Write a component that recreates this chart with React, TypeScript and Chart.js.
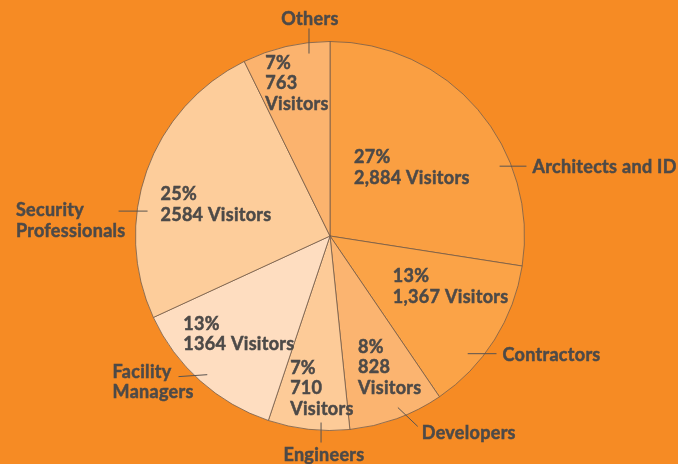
import React, { useEffect, useRef } from "react";
import { Chart, registerables } from "chart.js";

Chart.register(...registerables);

const categories = [
  "Architects and ID",
  "Contractors",
  "Developers",
  "Engineers",
  "Facility Managers",
  "Security Professionals",
  "Others",
];
const visitors = [2884, 1367, 828, 710, 1364, 2584, 763];
const percentLabels = ["27%", "13%", "8%", "7%", "13%", "25%", "7%"];
const visitorLabels = ["2,884", "1,367", "828", "710", "1364", "2584", "763"];
const outerLabelLines = [
  ["Architects and ID"],
  ["Contractors"],
  ["Developers"],
  ["Engineers"],
  ["Facility", "Managers"],
  ["Security", "Professionals"],
  ["Others"],
];

const sliceColors = ["#FA9F42", "#FBA347", "#FBB470", "#FDCB98", "#FEDDC0", "#FDCD9B", "#FBB36E"];
const BG = "#F68B24";
const TEXT = "#4D4A48";

// layout in units of the pie radius, relative to the pie centre
type Lay = {
  inner: [number, number];
  split: boolean;
  line: [number, number, number, number];
  text: [number, number];
  align: CanvasTextAlign;
};
const layout: Lay[] = [
  { inner: [0.123, -0.403], split: false, line: [0.872, -0.359, 1.01, -0.359], text: [1.041, -0.356], align: "left" },
  { inner: [0.323, 0.207], split: false, line: [0.708, 0.605, 0.856, 0.605], text: [0.887, 0.612], align: "left" },
  { inner: [0.144, 0.571], split: true, line: [0.349, 0.882, 0.451, 0.979], text: [0.472, 1.012], align: "left" },
  { inner: [-0.205, 0.679], split: true, line: [-0.046, 0.959, -0.046, 1.062], text: [-0.031, 1.125], align: "center" },
  { inner: [-0.754, 0.453], split: false, line: [-0.631, 0.713, -0.779, 0.723], text: [-1.118, 0.699], align: "left" },
  { inner: [-0.872, -0.213], split: false, line: [-0.938, -0.128, -1.087, -0.128], text: [-1.615, -0.131], align: "left" },
  { inner: [-0.333, -0.89], split: true, line: [-0.108, -0.938, -0.108, -1.067], text: [-0.103, -1.116], align: "center" },
];

const FONT = "bold 18px Lato";
const LINE_H = 20.5;

const labelPlugin = {
  id: "pieLabels",
  afterDatasetsDraw(chart: any) {
    const ctx = chart.ctx as CanvasRenderingContext2D;
    const meta = chart.getDatasetMeta(0);
    ctx.save();
    ctx.font = FONT;
    (ctx as any).letterSpacing = "0.3px";
    ctx.textBaseline = "middle";
    const drawText = (t: string, x: number, y: number) => {
      ctx.fillStyle = TEXT;
      ctx.strokeStyle = TEXT;
      ctx.lineWidth = 0.5;
      ctx.fillText(t, x, y);
      ctx.strokeText(t, x, y);
    };
    meta.data.forEach((arc: any, i: number) => {
      const cx = arc.x, cy = arc.y, R = arc.outerRadius;
      const L = layout[i];
      const lines = L.split
        ? [percentLabels[i], visitorLabels[i], "Visitors"]
        : [percentLabels[i], visitorLabels[i] + " Visitors"];
      ctx.textAlign = "left";
      lines.forEach((t, k) => {
        drawText(t, cx + L.inner[0] * R, cy + L.inner[1] * R + k * LINE_H);
      });
      ctx.strokeStyle = "#5A5450";
      ctx.lineWidth = 1;
      ctx.beginPath();
      ctx.moveTo(cx + L.line[0] * R, cy + L.line[1] * R);
      ctx.lineTo(cx + L.line[2] * R, cy + L.line[3] * R);
      ctx.stroke();
      ctx.textAlign = L.align;
      outerLabelLines[i].forEach((t, k) => {
        drawText(t, cx + L.text[0] * R, cy + L.text[1] * R + k * LINE_H);
      });
    });
    ctx.restore();
  },
};

export default function App() {
  const ref = useRef<HTMLCanvasElement>(null);
  useEffect(() => {
    if (!ref.current) return;
    const chart = new Chart(ref.current, {
      type: "pie",
      data: {
        labels: categories,
        datasets: [
          {
            data: visitors,
            backgroundColor: sliceColors,
            borderColor: "rgba(110,90,75,0.75)",
            borderWidth: 1,
          },
        ],
      },
      options: {
        responsive: false,
        animation: false,
        layout: { padding: { left: 134, right: 152, top: 41, bottom: 33 } },
        plugins: { legend: { display: false }, tooltip: { enabled: false } },
      },
      plugins: [labelPlugin],
    });
    return () => chart.destroy();
  }, []);
  return (
    <div style={{ position: "fixed", left: 0, top: 0, width: 678, height: 464, background: BG }}>
      <canvas ref={ref} width={678} height={464} style={{ display: "block" }} />
    </div>
  );
}
